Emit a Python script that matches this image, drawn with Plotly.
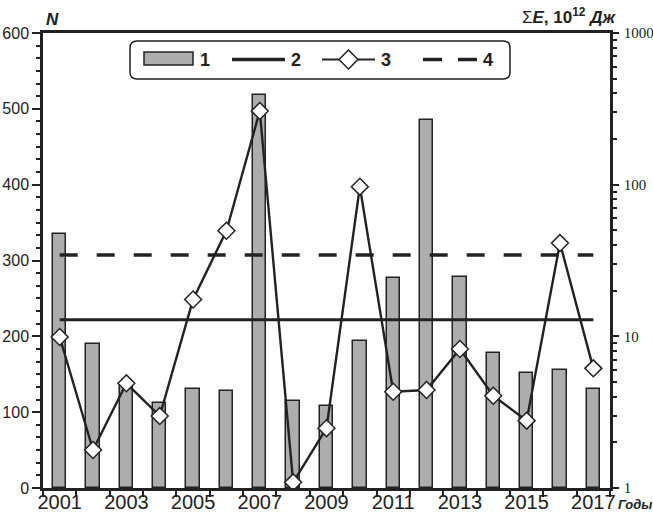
import plotly.graph_objects as go

# Years and yearly values
years = list(range(2001, 2018))
n_events = [335, 190, 135, 112, 130, 128, 518, 115, 108, 194, 277, 485, 278, 178, 151, 155, 131]
energy = [9.9, 1.78, 4.9, 2.98, 17.5, 49.7, 306, 1.09, 2.48, 97, 4.31, 4.43, 8.25, 4.06, 2.78, 41.2, 6.15]
mean_n = 222
mean_e = 34.4
year_labels = [2001, 2003, 2005, 2007, 2009, 2011, 2013, 2015, 2017]
legend_labels = ["1", "2", "3", "4"]

INK = "#222222"
BAR_FILL = "#adadad"
SANS = "Liberation Sans"
NARROW = "Liberation Sans Narrow, Liberation Sans, Arial"
SERIF = "Liberation Serif, Times New Roman"

W, H = 653, 515
L, R, T, B = 43, 43, 33, 27
PW, PH = W - L - R, H - T - B


def px(x):
    return (x - L) / PW


def py(y):
    return (H - B - y) / PH


fig = go.Figure()

fig.add_trace(go.Bar(
    x=years, y=n_events, width=0.4, yaxis="y",
    marker=dict(color=BAR_FILL, line=dict(color=INK, width=1.5)),
    showlegend=False,
))
fig.add_trace(go.Scatter(
    x=[years[0], years[-1]], y=[mean_n, mean_n], yaxis="y", mode="lines",
    line=dict(color=INK, width=3), showlegend=False,
))
fig.add_trace(go.Scatter(
    x=[years[0], years[-1]], y=[mean_e, mean_e], yaxis="y2", mode="lines",
    line=dict(color=INK, width=3.5, dash="18px,19px"), showlegend=False,
))
fig.add_trace(go.Scatter(
    x=years, y=energy, yaxis="y2", mode="lines+markers",
    line=dict(color=INK, width=2.4),
    marker=dict(symbol="diamond", size=13, color="white", line=dict(color=INK, width=1.5)),
    showlegend=False,
))

shapes = []
annotations = []

# Legend frame with rounded corners
x0, x1, y0, y1 = px(130), px(510), py(79), py(41)
rx, ry = 7 / PW, 7 / PH
path = (f"M{x0+rx},{y1} L{x1-rx},{y1} Q{x1},{y1} {x1},{y1-ry} "
        f"L{x1},{y0+ry} Q{x1},{y0} {x1-rx},{y0} L{x0+rx},{y0} "
        f"Q{x0},{y0} {x0},{y0+ry} L{x0},{y1-ry} Q{x0},{y1} {x0+rx},{y1} Z")
shapes.append(dict(type="path", xref="paper", yref="paper", path=path,
                   line=dict(color=INK, width=1.5), fillcolor="white"))
# 1: bar swatch
shapes.append(dict(type="rect", xref="paper", yref="paper",
                   x0=px(144), x1=px(193), y0=py(65), y1=py(52),
                   fillcolor=BAR_FILL, line=dict(color=INK, width=1.5)))
# 2: solid line
shapes.append(dict(type="line", xref="paper", yref="paper",
                   x0=px(232), x1=px(285), y0=py(59.5), y1=py(59.5),
                   line=dict(color=INK, width=3.3)))
# 3: line with diamond
shapes.append(dict(type="line", xref="paper", yref="paper",
                   x0=px(322), x1=px(375), y0=py(59.5), y1=py(59.5),
                   line=dict(color=INK, width=2)))
cx, cy, d = 348.5, 59.5, 9.5
shapes.append(dict(type="path", xref="paper", yref="paper",
                   path=(f"M{px(cx-d)},{py(cy)} L{px(cx)},{py(cy-d)} "
                         f"L{px(cx+d)},{py(cy)} L{px(cx)},{py(cy+d)} Z"),
                   fillcolor="white", line=dict(color=INK, width=1.5)))
# 4: dashed line
for a, b in [(423, 442), (458, 477)]:
    shapes.append(dict(type="line", xref="paper", yref="paper",
                       x0=px(a), x1=px(b), y0=py(59.5), y1=py(59.5),
                       line=dict(color=INK, width=3.5)))

for lbl, xc in zip(legend_labels, [205, 296, 386, 488]):
    annotations.append(dict(xref="paper", yref="paper", x=px(xc), y=py(60),
                            text=f"<b>{lbl}</b>", showarrow=False,
                            xanchor="center", yanchor="middle",
                            font=dict(family=SANS, size=18, color=INK)))

# Axis titles
annotations.append(dict(xref="paper", yref="paper", x=px(44), y=py(19),
                        text="<b><i>N</i></b>", showarrow=False,
                        xanchor="left", yanchor="middle",
                        font=dict(family=SANS, size=17, color=INK)))
annotations.append(dict(xref="paper", yref="paper", x=px(618), y=py(16),
                        text="Σ<b><i>E</i>, 10<sup>12</sup> <i>Дж</i></b>", showarrow=False,
                        xanchor="right", yanchor="middle",
                        font=dict(family=SANS, size=17, color=INK)))
annotations.append(dict(xref="paper", yref="paper", x=px(653), y=py(504),
                        text="<b><i>Годы</i></b>", showarrow=False,
                        xanchor="right", yanchor="middle", xshift=1,
                        font=dict(family=SANS, size=13, color=INK)))

fig.update_layout(
    width=W, height=H,
    margin=dict(l=L, r=R, t=T, b=B, pad=0, autoexpand=False),
    paper_bgcolor="white", plot_bgcolor="white",
    showlegend=False,
    bargap=0,
    xaxis=dict(
        range=[2000.5, 2017.5], automargin=False,
        tickmode="array", tickvals=year_labels, ticktext=[str(v) for v in year_labels],
        ticks="", ticklabelstandoff=-6,
        tickfont=dict(family=NARROW, size=20, color=INK),
        showline=True, linecolor=INK, linewidth=2.5, mirror=True,
        showgrid=False, zeroline=False,
        minor=dict(ticks="outside", tick0=2000.5, dtick=1, ticklen=6,
                   tickwidth=1.5, tickcolor=INK),
    ),
    yaxis=dict(
        range=[0, 600], dtick=100, ticks="outside", ticklen=8, tickwidth=1.5,
        tickcolor=INK, automargin=False,
        tickfont=dict(family=SANS, size=16, color=INK),
        showline=True, linecolor=INK, linewidth=2.5,
        showgrid=False, zeroline=False,
        minor=dict(ticks="outside", tick0=0, dtick=100 / 6, ticklen=4,
                   tickwidth=1.5, tickcolor=INK),
    ),
    yaxis2=dict(
        type="log", range=[0, 3], overlaying="y", side="right", automargin=False,
        tickmode="array", tickvals=[1, 10, 100, 1000],
        ticktext=["1", "10", "100", "1000"],
        ticks="outside", ticklen=6, tickwidth=1.5, tickcolor=INK,
        ticklabelstandoff=2,
        tickfont=dict(family=SERIF, size=15, color=INK),
        showline=True, linecolor=INK, linewidth=2.5,
        showgrid=False, zeroline=False,
        minor=dict(ticks="outside", ticklen=4, tickwidth=1.5, tickcolor=INK,
                   tickmode="array",
                   tickvals=[m * 10 ** e for e in range(3) for m in range(2, 10)]),
    ),
    shapes=shapes,
    annotations=annotations,
)

fig.write_html("out.html")
